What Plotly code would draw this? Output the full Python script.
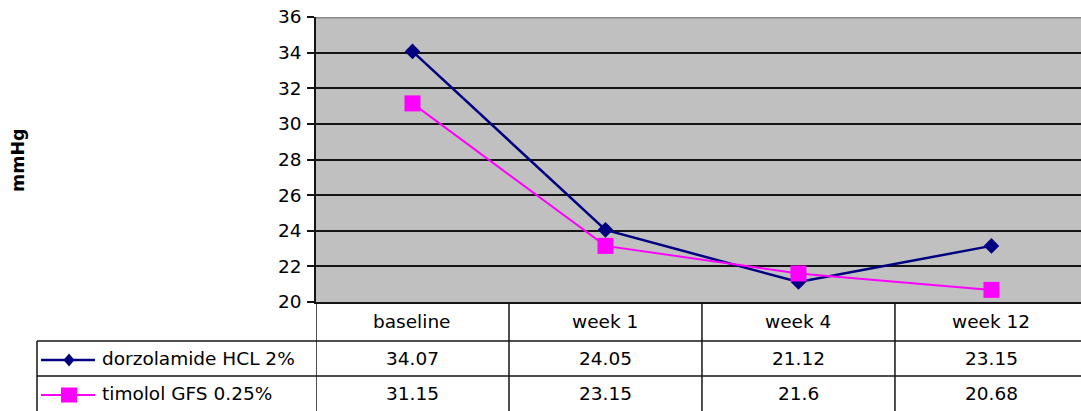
import plotly.graph_objects as go

# ---- data ----
categories = ["baseline", "week 1", "week 4", "week 12"]
dorzolamide = [34.07, 24.05, 21.12, 23.15]
timolol = [31.15, 23.15, 21.6, 20.68]
series_names = ["dorzolamide HCL 2%", "timolol GFS 0.25%"]
y_ticks = [20, 22, 24, 26, 28, 30, 32, 34, 36]
y_title = "mmHg"

# ---- page geometry (pixels) ----
W, H = 1081, 411
L, T, B = 316, 17, 302          # plot area left / top / bottom
PW, PH = W - L, B - T


def px_x(x):
    return (x - L) / PW


def px_y(y):
    return (B - y) / PH


FONT = "DejaVu Sans"
FS = 18.5
NAVY = "#000080"
MAGENTA = "#FF00FF"
LINE = "#141414"

fig = go.Figure()
fig.add_trace(go.Scatter(
    x=categories, y=dorzolamide, name=series_names[0], mode="lines+markers",
    line=dict(color=NAVY, width=2.5),
    marker=dict(symbol="diamond", size=12, color=NAVY),
))
fig.add_trace(go.Scatter(
    x=categories, y=timolol, name=series_names[1], mode="lines+markers",
    line=dict(color=MAGENTA, width=2),
    marker=dict(symbol="square", size=16, color=MAGENTA),
))

shapes = []
# darker top edge of the plot area
shapes.append(dict(type="line", xref="paper", yref="y", x0=0, x1=1, y0=36, y1=36,
                   line=dict(color="#8a8a8a", width=3), layer="above"))
# data table grid
for yy in (341, 376):
    shapes.append(dict(type="line", xref="paper", yref="paper",
                       x0=px_x(37), x1=1, y0=px_y(yy), y1=px_y(yy),
                       line=dict(color=LINE, width=1.5)))
shapes.append(dict(type="line", xref="paper", yref="paper",
                   x0=px_x(37), x1=px_x(37), y0=px_y(341), y1=px_y(H + 2),
                   line=dict(color=LINE, width=1.5)))
for i in range(len(categories)):
    xb = i - 0.5
    shapes.append(dict(type="line", xref="x", yref="paper",
                       x0=xb, x1=xb, y0=0, y1=px_y(H + 2),
                       line=dict(color=LINE, width=1.5)))

# legend keys inside the table
key_x0, key_x1, key_xc = 41, 95, 69
ya, yb = 360, 395
shapes.append(dict(type="line", xref="paper", yref="paper",
                   x0=px_x(key_x0), x1=px_x(key_x1), y0=px_y(ya), y1=px_y(ya),
                   line=dict(color=NAVY, width=2.5)))
dx, dy = 5.5, 6.5
shapes.append(dict(type="path", xref="paper", yref="paper",
                   path=(f"M {px_x(key_xc - dx)} {px_y(ya)} L {px_x(key_xc)} {px_y(ya - dy)} "
                         f"L {px_x(key_xc + dx)} {px_y(ya)} L {px_x(key_xc)} {px_y(ya + dy)} Z"),
                   fillcolor=NAVY, line=dict(color=NAVY, width=0)))
shapes.append(dict(type="line", xref="paper", yref="paper",
                   x0=px_x(key_x0), x1=px_x(key_x1), y0=px_y(yb), y1=px_y(yb),
                   line=dict(color=MAGENTA, width=2)))
shapes.append(dict(type="rect", xref="paper", yref="paper",
                   x0=px_x(key_xc - 8), x1=px_x(key_xc + 8),
                   y0=px_y(yb - 7.5), y1=px_y(yb + 7.5),
                   fillcolor=MAGENTA, line=dict(color=MAGENTA, width=0)))

annotations = []
row_header, row_a, row_b = 321, 358.5, 393.5
cell_font = dict(family=FONT, size=FS, color="black")
for i, cat in enumerate(categories):
    for text, yy in ((cat, row_header),
                     (f"{dorzolamide[i]:g}", row_a),
                     (f"{timolol[i]:g}", row_b)):
        annotations.append(dict(x=i, y=px_y(yy), xref="x", yref="paper", text=text,
                                xanchor="center", yanchor="middle",
                                showarrow=False, font=cell_font))
for name, yy in zip(series_names, (row_a, row_b)):
    annotations.append(dict(x=px_x(100), y=px_y(yy), xref="paper", yref="paper", text=name,
                            xanchor="left", yanchor="middle", showarrow=False,
                            font=cell_font))
annotations.append(dict(x=px_x(18), y=px_y(160), xref="paper", yref="paper",
                        text=f"<b>{y_title}</b>", textangle=-90, showarrow=False,
                        xanchor="center", yanchor="middle",
                        font=dict(family=FONT, size=17.5, color="black")))

fig.update_layout(
    width=W, height=H,
    margin=dict(l=L, r=0, t=T, b=H - B, pad=0),
    paper_bgcolor="white", plot_bgcolor="#C0C0C0",
    showlegend=False,
    shapes=shapes, annotations=annotations,
    font=dict(family=FONT, size=FS, color="black"),
)
fig.update_xaxes(
    type="category", range=[-0.5, 3.464], showticklabels=False, ticks="",
    showgrid=False, zeroline=False, showline=True, linecolor=LINE, linewidth=1.5,
)
fig.update_yaxes(
    range=[20, 36], tickvals=y_ticks, ticks="outside", ticklen=7, tickwidth=1.5,
    tickcolor=LINE, showline=True, linecolor=LINE, linewidth=1.5,
    showgrid=True, gridcolor=LINE, gridwidth=1.5, zeroline=False,
    tickfont=dict(family=FONT, size=FS, color="black"), ticklabelstandoff=2,
)

fig.write_html("out.html")
